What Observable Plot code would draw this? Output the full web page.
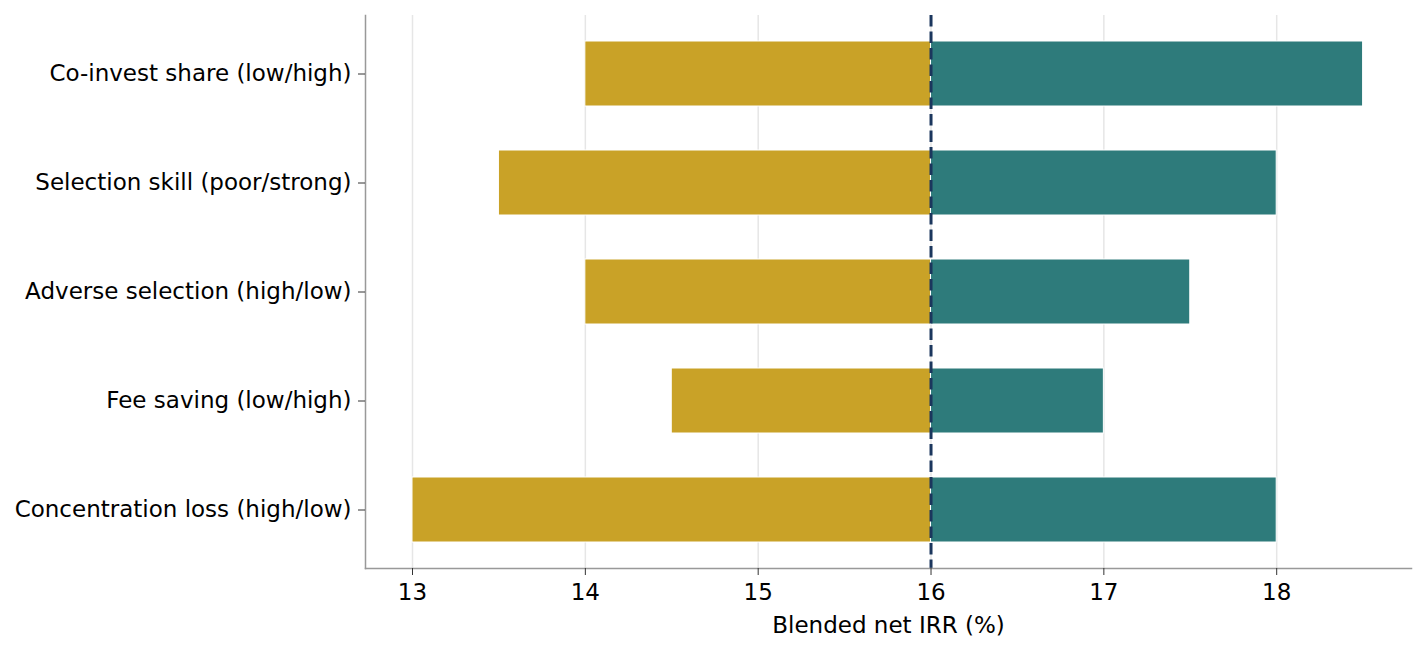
<!DOCTYPE html>
<html>
<head>
<meta charset="utf-8">
<script src="https://cdn.jsdelivr.net/npm/d3@7"></script>
<script src="https://cdn.jsdelivr.net/npm/@observablehq/plot@0.6"></script>
<style>
  html, body { margin: 0; padding: 0; background: #fff; }
  #chart svg { display: block; }
</style>
</head>
<body>
<div id="chart"></div>
<script>
const factors = [
  "Co-invest share (low/high)",
  "Selection skill (poor/strong)",
  "Adverse selection (high/low)",
  "Fee saving (low/high)",
  "Concentration loss (high/low)"
];
const lowValues = [14.0, 13.5, 14.0, 14.5, 13.0];
const highValues = [18.5, 18.0, 17.5, 17.0, 18.0];
const baseValue = 16;
const xTicks = [13, 14, 15, 16, 17, 18];
const xLabel = "Blended net IRR (%)";

const rows = factors.map((f, i) => ({factor: f, low: lowValues[i], high: highValues[i]}));

const chart = Plot.plot({
  width: 1425,
  height: 653,
  marginLeft: 365,
  marginRight: 14,
  marginTop: 15,
  marginBottom: 85,
  style: {fontFamily: "DejaVu Sans", fontSize: "23px", color: "#000", background: "#fff"},
  x: {domain: [12.728, 18.78], label: null},
  y: {domain: factors, paddingInner: 0.4, paddingOuter: 0.23, label: null},
  marks: [
    Plot.gridX(xTicks, {stroke: "#e6e6e6", strokeOpacity: 1, strokeWidth: 1.5}),
    Plot.barX(rows, {y: "factor", x1: baseValue, x2: "low", fill: "#C9A227", stroke: "#fff", strokeWidth: 1}),
    Plot.barX(rows, {y: "factor", x1: baseValue, x2: "high", fill: "#2E7B7B", stroke: "#fff", strokeWidth: 1}),
    Plot.ruleX([baseValue], {stroke: "#1B365D", strokeWidth: 3, strokeDasharray: "11.5,5"}),
    Plot.frame({anchor: "left", stroke: "#999", strokeWidth: 1.5}),
    Plot.frame({anchor: "bottom", stroke: "#999", strokeWidth: 1.5}),
    Plot.axisX({ticks: xTicks, tickFormat: d => String(d), tickSize: 7, tickPadding: 8, stroke: "#333", label: null, fill: "#000"}),
    Plot.axisY({tickSize: 7, tickPadding: 7, stroke: "#333", label: null, fill: "#000"}),
    Plot.text([xLabel], {frameAnchor: "bottom", dy: 64, fill: "#000", fontSize: 23})
  ]
});
document.getElementById("chart").appendChild(chart);
</script>
</body>
</html>
